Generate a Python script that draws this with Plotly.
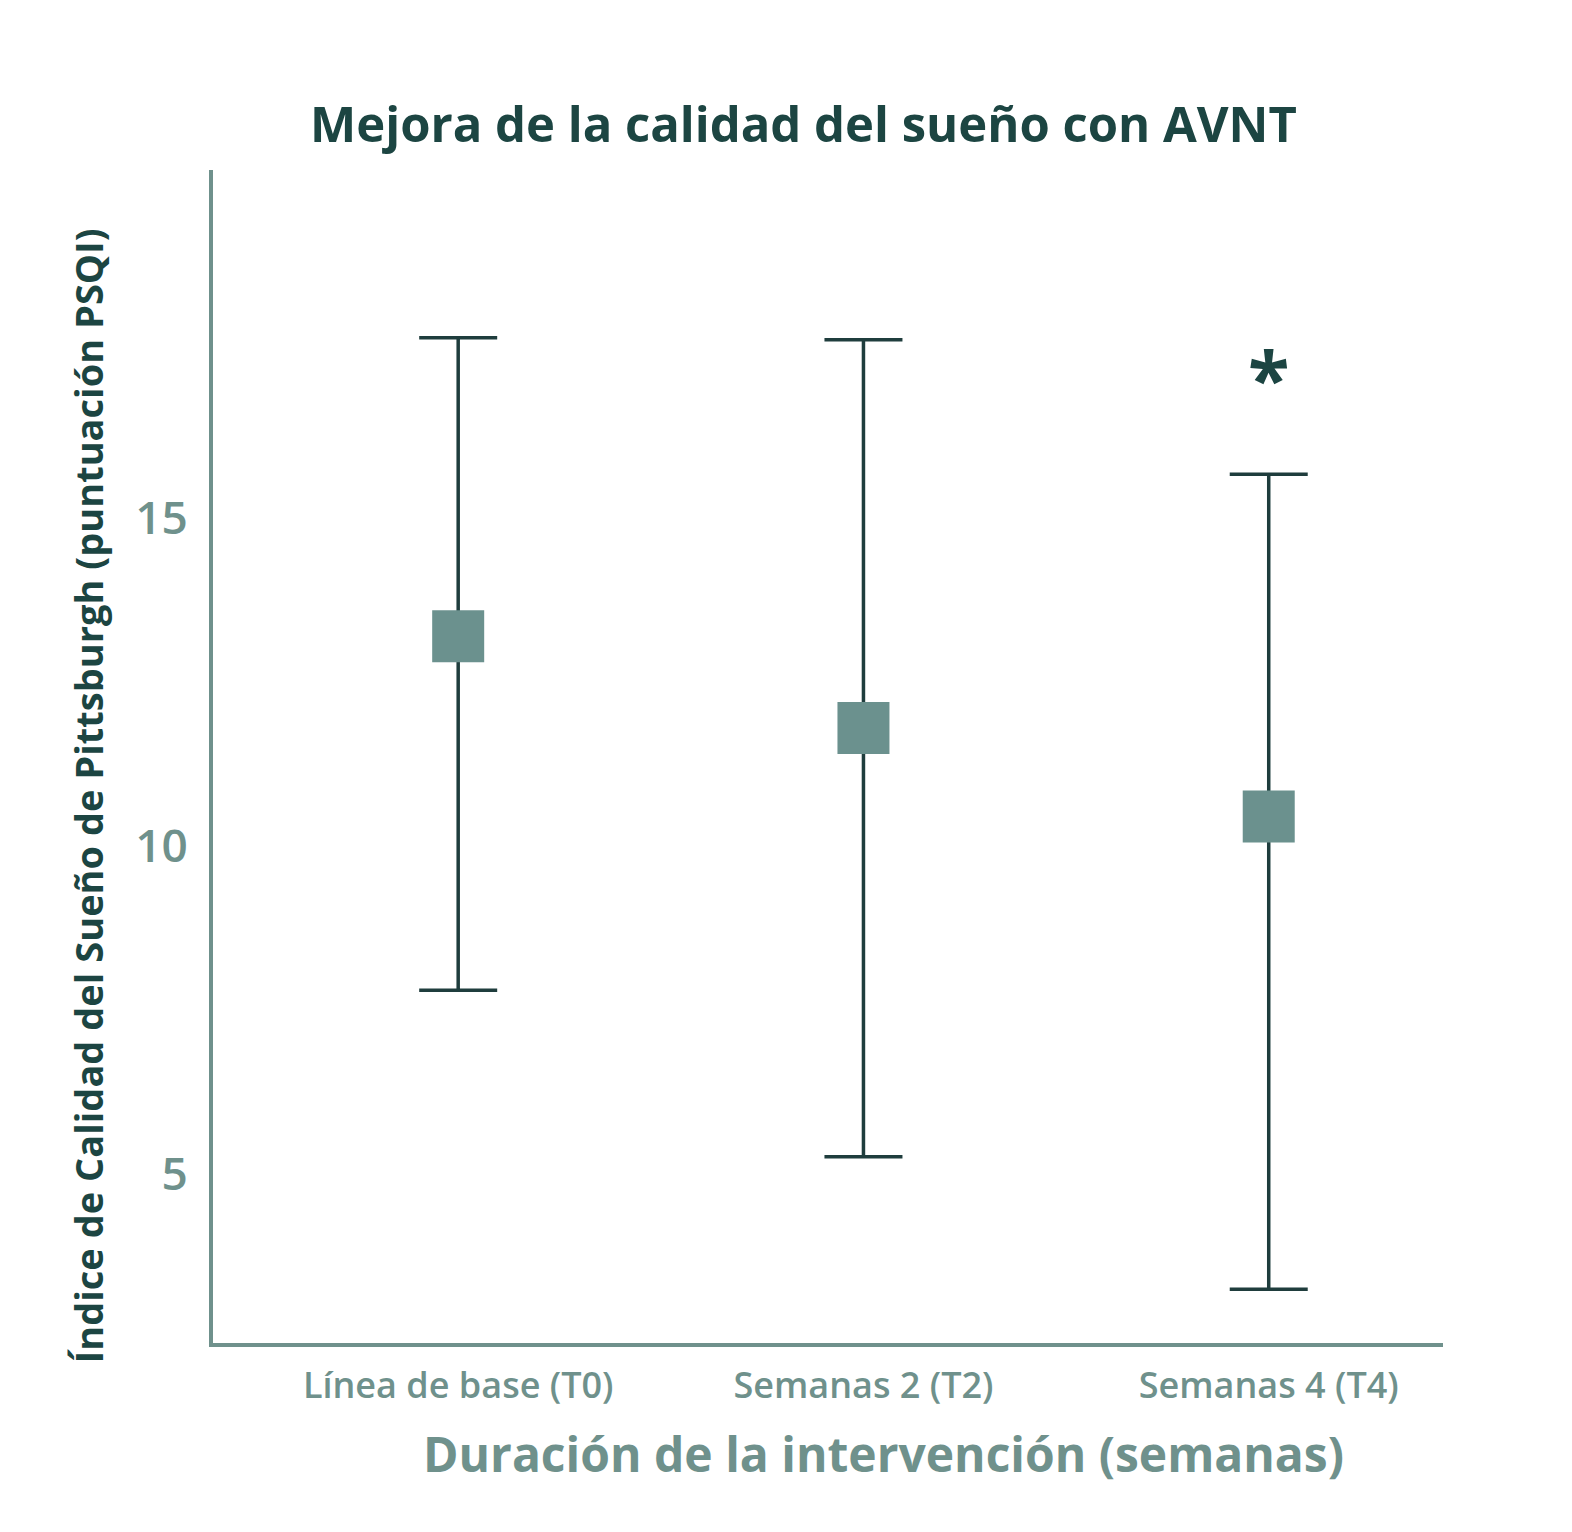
import plotly.graph_objects as go

# data
categories = ["Línea de base (T0)", "Semanas 2 (T2)", "Semanas 4 (T4)"]
mean_psqi = [13.2, 11.8, 10.45]
upper_psqi = [17.75, 17.72, 15.67]
lower_psqi = [7.8, 5.26, 3.24]
y_ticks = [5, 10, 15]
star_label = "*"
star_value = 17.0

err_plus = [u - m for u, m in zip(upper_psqi, mean_psqi)]
err_minus = [m - l for m, l in zip(mean_psqi, lower_psqi)]

DARK = "#1c4542"
BAR = "#1f3d3d"
MUTED = "#6f918c"
MARK = "#6b918e"
FONT = "Open Sans"

fig = go.Figure()
fig.add_trace(go.Scatter(
    x=categories, y=mean_psqi, mode="markers",
    marker=dict(symbol="square", size=52, color=MARK, line=dict(width=0)),
    error_y=dict(type="data", symmetric=False, array=err_plus,
                 arrayminus=err_minus, color=BAR, thickness=3.5, width=39),
    showlegend=False, hoverinfo="skip",
))
fig.add_trace(go.Scatter(
    x=[categories[2]], y=[star_value], mode="text", text=[star_label],
    textfont=dict(family=FONT, size=76, color=DARK, weight="bold"),
    textposition="middle center", showlegend=False, hoverinfo="skip",
))

fig.update_xaxes(
    type="category", range=[-0.605, 2.43],
    showline=True, linecolor=MUTED, linewidth=4, showgrid=False,
    zeroline=False, ticks="", tickfont=dict(family=FONT, size=36, color=MUTED, weight=600),
    ticklabelstandoff=8,
)
fig.update_yaxes(
    range=[2.42, 20.31], tickvals=y_ticks,
    showline=True, linecolor=MUTED, linewidth=4, showgrid=False,
    zeroline=False, ticks="", tickfont=dict(family=FONT, size=46, color=MUTED, weight=600),
    ticklabelstandoff=12,
)

fig.update_layout(
    width=1572, height=1532,
    margin=dict(l=205, r=137, t=162, b=197),
    paper_bgcolor="white", plot_bgcolor="white",
    title=dict(text="Mejora de la calidad del sueño con AVNT",
               x=0.506, xanchor="center", y=0.9236, yanchor="middle",
               font=dict(family=FONT, size=49, color=DARK, weight="bold")),
    annotations=[
        dict(text="Duración de la intervención (semanas)", xref="paper", yref="paper",
             x=0.545, y=-0.094, xanchor="center", yanchor="middle", showarrow=False,
             font=dict(family=FONT, size=48, color=MUTED, weight="bold")),
        dict(text="Índice de Calidad del Sueño de Pittsburgh (puntuación PSQI)",
             xref="paper", yref="paper", x=-0.1016, y=0.466, xanchor="center",
             yanchor="middle", textangle=-90, showarrow=False,
             font=dict(family=FONT, size=38, color=DARK, weight="bold")),
    ],
)

fig.write_html("out.html")
